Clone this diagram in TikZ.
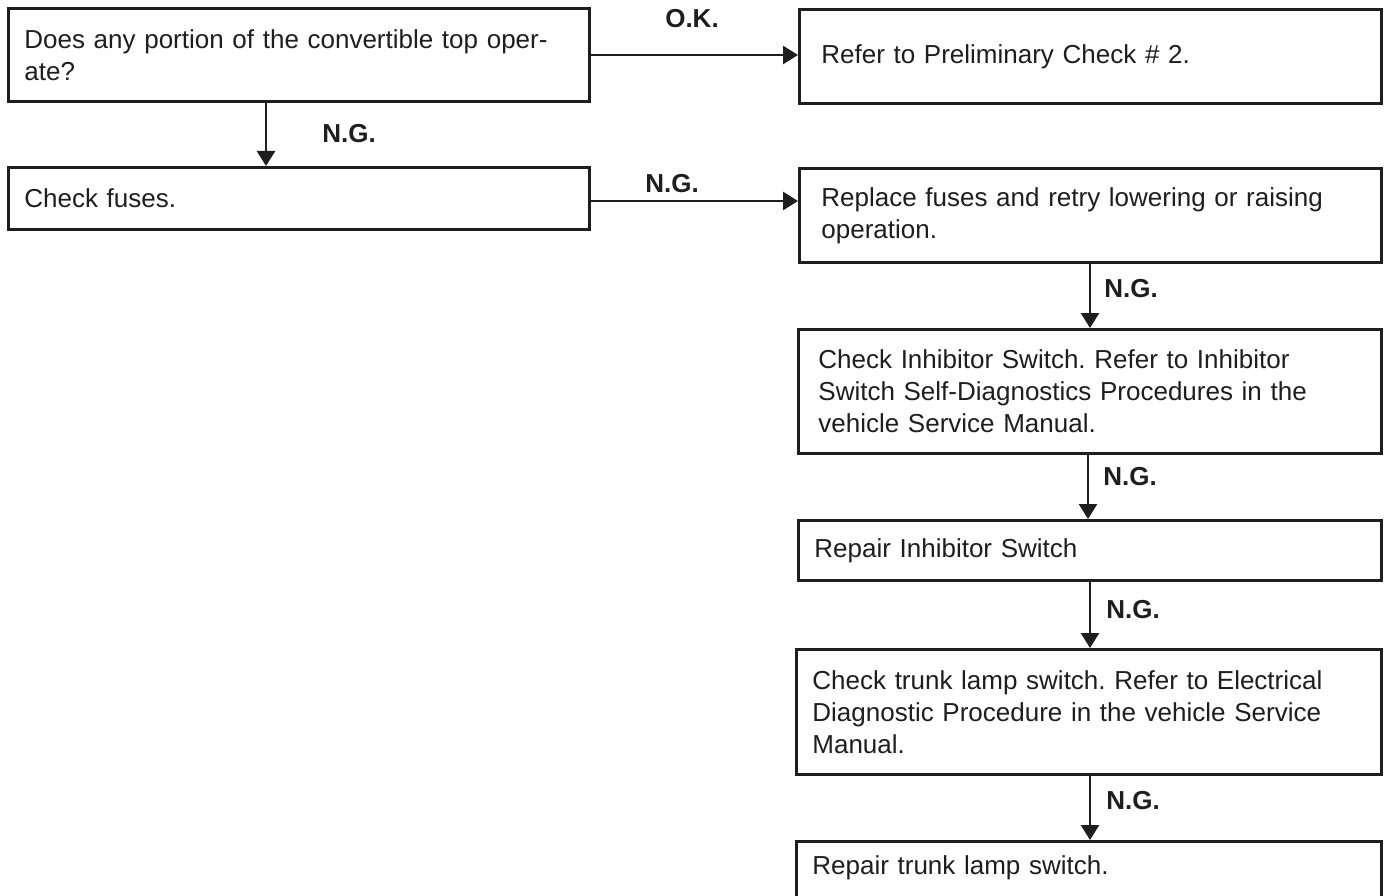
\documentclass[tikz,border=0pt]{standalone}
\usepackage{fontspec}
\setmainfont{Liberation Sans}
\usetikzlibrary{arrows.meta}
\definecolor{ink}{HTML}{1E1E1E}
\frenchspacing
\begin{document}
\begin{tikzpicture}[x=1pt,y=-1pt,
  box/.style={draw=ink, line width=2.8pt, anchor=north west, align=left,
    inner ysep=0pt, text=ink, font=\fontsize{26}{32}\selectfont\frenchspacing},
  arr/.style={draw=ink, line width=2.6pt, -{Triangle[length=15pt,width=18pt]}},
  lbl/.style={font=\fontsize{26}{32}\selectfont\bfseries, text=ink, inner sep=0pt}]
\useasboundingbox (0,0) rectangle (1386,896);
\fill[white] (0,0) rectangle (1386,896);
\clip (0,0) rectangle (1386,896);

\node[box, text width=549pt, inner xsep=16pt, minimum height=93pt] (b1) at (7,7)
  {Does any portion of the convertible top oper-\\ate?};
\node[box, text width=538pt, inner xsep=22pt, minimum height=94pt] (b2) at (798,8)
  {Refer to Preliminary Check \# 2.};
\node[box, text width=549pt, inner xsep=16pt, minimum height=62pt] (b3) at (7,166)
  {Check fuses.};
\node[box, text width=538pt, inner xsep=22pt, minimum height=94pt] (b4) at (798,167)
  {Replace fuses and retry lowering or raising\\operation.};
\node[box, text width=543pt, inner xsep=20pt, minimum height=124pt] (b5) at (797,328)
  {Check Inhibitor Switch. Refer to Inhibitor\\Switch Self-Diagnostics Procedures in the\\vehicle Service Manual.};
\node[box, text width=551pt, inner xsep=16pt, minimum height=60pt] (b6) at (797,519)
  {Repair Inhibitor Switch};
\node[box, text width=553pt, inner xsep=16pt, minimum height=125pt] (b7) at (795,648)
  {Check trunk lamp switch. Refer to Electrical\\Diagnostic Procedure in the vehicle Service\\Manual.};
\node[box, text width=553pt, inner xsep=16pt, minimum height=64pt, text depth=16pt] (b8) at (795,840)
  {Repair trunk lamp switch.};

\coordinate (r1) at (0,55);
\coordinate (r2) at (0,201);
\coordinate (c1) at (266,0);
\coordinate (v1) at (1090,0);
\coordinate (v2) at (1088,0);
\coordinate (v3) at (1090,0);
\coordinate (v4) at (1090,0);

\draw[arr] (b1.east |- r1) -- (b2.west |- r1);
\draw[arr] (b1.south -| c1) -- (b3.north -| c1);
\draw[arr] (b3.east |- r2) -- (b4.west |- r2);
\draw[arr] (b4.south -| v1) -- (b5.north -| v1);
\draw[arr] (b5.south -| v2) -- (b6.north -| v2);
\draw[arr] (b6.south -| v3) -- (b7.north -| v3);
\draw[arr] (b7.south -| v4) -- (b8.north -| v4);

\node[lbl] (ok) at (692,19) {O.K.};
\node[lbl] (ng1) at (349,134) {N.G.};
\node[lbl] (ng2) at (672,184) {N.G.};
\node[lbl] (ng3) at (1131,289) {N.G.};
\node[lbl] (ng4) at (1130,477) {N.G.};
\node[lbl] (ng5) at (1133,610) {N.G.};
\node[lbl] (ng6) at (1133,801) {N.G.};
\end{tikzpicture}
\end{document}
